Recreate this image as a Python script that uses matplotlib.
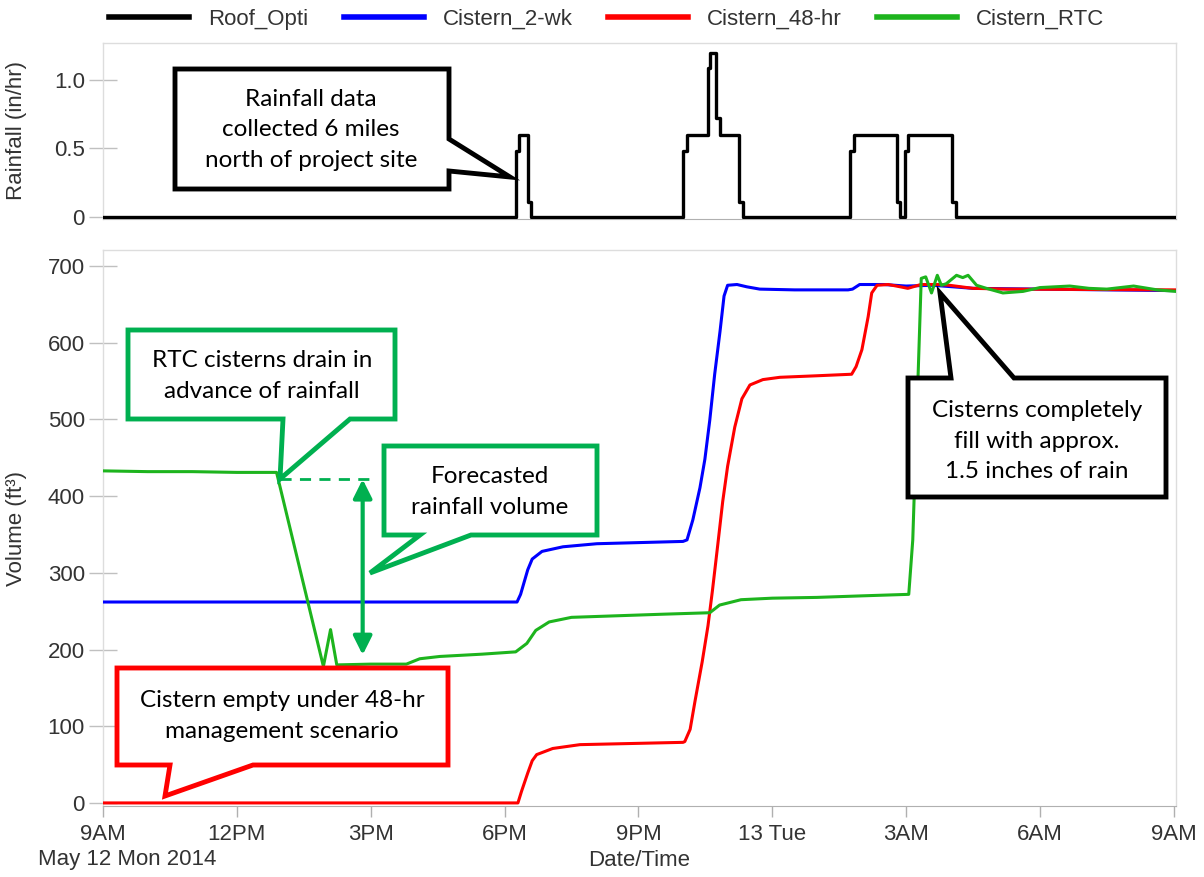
import matplotlib
matplotlib.use("Agg")
import matplotlib.pyplot as plt
from matplotlib.patches import Polygon

# ---------------- data (hours after 9AM, May 12 2014) ----------------
rain_t = [0, 9.25, 9.33, 9.52, 9.59, 13.0, 13.08, 13.55, 13.6, 13.75, 13.83, 14.26, 14.35,
          16.74, 16.83, 17.79, 17.86, 17.97, 18.05, 19.04, 19.12, 24.05]
rain_v = [0, 0.48, 0.6, 0.11, 0, 0.48, 0.6, 1.09, 1.2, 0.72, 0.6, 0.11, 0,
          0.48, 0.6, 0.11, 0, 0.48, 0.6, 0.11, 0, 0]

wk2_t = [0, 9.28, 9.36, 9.45, 9.52, 9.62, 9.84, 10.31, 11.07, 13.0, 13.09, 13.22, 13.38,
         13.49, 13.6, 13.71, 13.83, 13.92, 14.0, 14.21, 14.43, 14.72, 15.5, 16.7, 16.8,
         16.96, 17.2, 17.5, 18.0, 18.6, 19.5, 21.0, 24.05]
wk2_v = [262, 262, 272, 290, 304, 318, 328, 334, 338, 341, 343, 369, 411,
         448, 499, 559, 615, 661, 675, 676, 673, 670, 669, 669, 670,
         676, 676, 676, 674, 675, 671, 670, 668]

hr48_t = [0, 9.3, 9.38, 9.52, 9.62, 9.72, 10.08, 10.69, 13.0, 13.04, 13.16, 13.27, 13.43,
          13.56, 13.66, 13.78, 13.89, 14.0, 14.16, 14.32, 14.5, 14.79, 15.17, 16.0, 16.78,
          16.88, 17.01, 17.15, 17.23, 17.35, 17.6, 17.87, 18.04, 18.33, 18.75, 18.97, 19.5,
          20.25, 24.05]
hr48_v = [0, 0, 15, 39, 55, 63, 71, 76, 79, 80, 96, 133, 184,
          231, 277, 337, 393, 439, 490, 527, 545, 552, 555, 557, 559,
          569, 591, 634, 665, 675, 676, 673, 671, 676, 676, 675, 671,
          670, 669]

rtc_t = [0, 1.0, 2.0, 3.0, 3.89, 4.94, 5.1, 5.24, 6.0, 6.8, 7.1, 7.55, 8.5, 9.25, 9.5,
         9.7, 10.0, 10.5, 11.5, 12.5, 13.6, 13.82, 14.3, 15.0, 16.0, 17.0, 18.06, 18.15,
         18.34, 18.44, 18.57, 18.7, 18.79, 18.9, 19.13, 19.27, 19.39, 19.58, 19.8, 20.17,
         20.62, 21.0, 21.67, 22.1, 22.5, 23.1, 23.63, 24.05]
rtc_v = [433, 432, 432, 431, 431, 178, 226, 180, 181, 181, 188, 191, 194, 197, 208,
         225, 236, 242, 244, 246, 248, 258, 265, 267, 268, 270, 272, 343,
         684, 686, 665, 688, 675, 677, 688, 685, 688, 675, 671, 665,
         667, 672, 674, 671, 670, 674, 669, 667]

tick_hours = [0, 3, 6, 9, 12, 15, 18, 21, 24]
tick_labels = ["9AM", "12PM", "3PM", "6PM", "9PM", "13 Tue", "3AM", "6AM", "9AM"]
rain_ticks = [0, 0.5, 1.0]
rain_tick_labels = ["0", "0.5", "1.0"]
vol_ticks = [0, 100, 200, 300, 400, 500, 600, 700]

forecast_level = 422      # dashed level of the forecast annotation
arrow_t = 5.82            # time of the double arrow
arrow_low = 193
dash_t = (3.96, 6.05)

# ---------------- styling ----------------
W, H, DPI = 1204, 877, 100
plt.rcParams["font.family"] = ["Liberation Sans", "DejaVu Sans"]
TXT = "#333333"
GREEN_LINE = "#1db41d"
GREEN_BOX = "#00b050"
CALLOUT_FONT = ["Lato", "DejaVu Sans"]
FS = 16

fig = plt.figure(figsize=(W / DPI, H / DPI), dpi=DPI)


def rect(l, t, r, b):
    return [l / W, 1 - b / H, (r - l) / W, (b - t) / H]


def fpt(x, y):
    return (x / W, 1 - y / H)


ax1 = fig.add_axes(rect(103, 43, 1176, 219))
ax2 = fig.add_axes(rect(103, 250, 1176, 806))

for ax in (ax1, ax2):
    ax.set_xlim(0, 24.05)
    for s in ("top", "right", "left"):
        ax.spines[s].set_color("#dddddd")
        ax.spines[s].set_linewidth(1)
    ax.spines["bottom"].set_color("#b0b0b0")
    ax.tick_params(axis="y", direction="inout", length=20, width=1, color="#c0c0c0",
                   labelsize=FS, labelcolor=TXT, pad=3)

# top panel: rainfall
l_roof, = ax1.plot(rain_t, rain_v, drawstyle="steps-post", color="black", lw=2.4,
                   label="Roof_Opti", zorder=3)
ax1.set_ylim(-0.015, 1.27)
ax1.set_yticks(rain_ticks)
ax1.set_yticklabels(rain_tick_labels)
ax1.set_xticks([])
ax1.set_ylabel("Rainfall (in/hr)", fontsize=FS, color=TXT, va="center")
ax1.yaxis.set_label_coords((17 - 103) / 1073, 0.5)

# bottom panel: volumes
l_2wk, = ax2.plot(wk2_t, wk2_v, color="#0000ff", lw=2.2, label="Cistern_2-wk", zorder=3)
l_48, = ax2.plot(hr48_t, hr48_v, color="#ff0000", lw=2.2, label="Cistern_48-hr", zorder=4)
l_rtc, = ax2.plot(rtc_t, rtc_v, color=GREEN_LINE, lw=2.2, label="Cistern_RTC", zorder=5)
ax2.set_ylim(-4, 721)
ax2.set_yticks(vol_ticks)
ax2.set_xticks(tick_hours)
ax2.set_xticklabels(tick_labels)
ax2.tick_params(axis="x", direction="out", length=8, width=1, color="#b0b0b0",
                labelsize=FS, labelcolor=TXT, pad=5)
ax2.set_ylabel("Volume (ft³)", fontsize=FS, color=TXT, va="center")
ax2.yaxis.set_label_coords((17 - 103) / 1073, 0.5)
ax2.set_xlabel("Date/Time", fontsize=FS, color=TXT)
ax2.xaxis.set_label_coords(0.5, -(860 - 806) / 556)
ax2.xaxis.label.set_va("center")
fig.text(*fpt(127, 860), "May 12 Mon 2014", fontsize=FS, color=TXT, ha="center", va="center")

# forecast annotation (dashed level and double arrow)
ax2.plot(dash_t, [forecast_level, forecast_level], color=GREEN_BOX, lw=2, ls=(0, (4, 3)),
         zorder=6)
ax2.annotate("", xy=(arrow_t, forecast_level), xytext=(arrow_t, arrow_low),
             arrowprops=dict(arrowstyle="<|-|>", color=GREEN_BOX, lw=3, mutation_scale=28,
                             shrinkA=0, shrinkB=0), zorder=6)

# legend
leg = fig.legend(handles=[l_roof, l_2wk, l_48, l_rtc], loc="center", ncol=4,
                 bbox_to_anchor=fpt(607, 19), frameon=False, fontsize=FS, handlelength=3.6,
                 handletextpad=0.85, columnspacing=1.6, labelcolor=TXT)
for lh in leg.get_lines():
    lh.set_linewidth(4)


# callouts
def callout(pts, color, text, center):
    poly = Polygon([fpt(x, y) for x, y in pts], closed=True, transform=fig.transFigure,
                   facecolor="white", edgecolor=color, lw=3.5, joinstyle="miter", zorder=20)
    fig.add_artist(poly)
    fig.text(*fpt(*center), text, ha="center", va="center", fontsize=17.5,
             family=CALLOUT_FONT, color="black", linespacing=1.55, zorder=21)


callout([(175, 69), (449, 69), (449, 139), (510, 177), (449, 171), (449, 189), (175, 189)],
        "black", "Rainfall data\ncollected 6 miles\nnorth of project site", (311, 130))
callout([(128, 330), (395, 330), (395, 419), (350, 419), (280, 479), (283, 419), (128, 419)],
        GREEN_BOX, "RTC cisterns drain in\nadvance of rainfall", (262, 376))
callout([(384, 446), (597, 446), (597, 535), (471, 535), (370, 573), (420, 535), (384, 535)],
        GREEN_BOX, "Forecasted\nrainfall volume", (490, 492))
callout([(117, 668), (448, 668), (448, 765), (253, 765), (165, 796), (170, 765), (117, 765)],
        "#ff0000", "Cistern empty under 48-hr\nmanagement scenario", (282, 716))
callout([(908, 378), (951, 378), (940, 293), (1014, 378), (1166, 378), (1166, 497), (908, 497)],
        "black", "Cisterns completely\nfill with approx.\n1.5 inches of rain", (1037, 441))

fig.savefig("out.png", dpi=DPI)
